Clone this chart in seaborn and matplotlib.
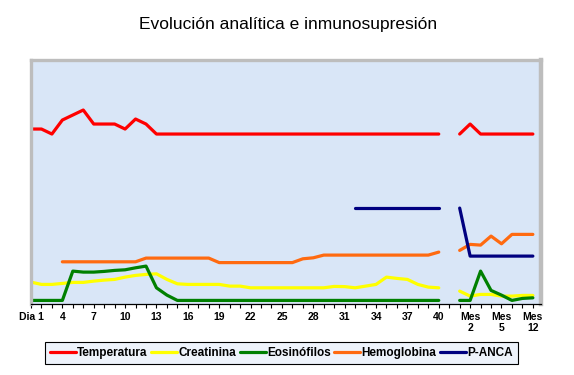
import numpy as np
import pandas as pd
import matplotlib
matplotlib.use("Agg")
import matplotlib.pyplot as plt
from matplotlib.lines import Line2D
import seaborn as sns

sns.set_style("white")
plt.rcParams['font.family'] = ['Liberation Sans', 'DejaVu Sans']
plt.rcParams['text.color'] = 'black'
plt.rcParams['xtick.color'] = 'black'

# -----------------------------
# datos (altura relativa de cada curva, sin escala en el eje y)
# -----------------------------
x_dias = np.arange(1, 41)    # Dia 1 .. 40
x_meses = np.arange(42, 50)  # tramo de meses, tras un hueco

temperatura_dias = [175, 175, 170, 184, 189, 194, 180, 180, 180, 175,
                    185, 180, 170, 170, 170, 170, 170, 170, 170, 170,
                    170, 170, 170, 170, 170, 170, 170, 170, 170, 170,
                    170, 170, 170, 170, 170, 170, 170, 170, 170, 170]
creatinina_dias = [22, 19.7, 19.7, 20.7, 21.7, 21.7, 23, 24, 24.7, 27,
                   28.7, 29.7, 30.3, 24.7, 20.3, 19.7, 19.7, 19.7, 19.7, 18,
                   18, 16.3, 16.3, 16.3, 16.3, 16.3, 16.3, 16.3, 16.3, 17.7,
                   17.5, 16.3, 18, 19.7, 27, 25.7, 24.7, 19.7, 17, 16.3]
eosinofilos_dias = [3.7, 3.7, 3.7, 3.7, 33, 32, 32, 32.7, 33.7, 34.3,
                    36.3, 38, 16.3, 9, 3.7, 3.7, 3.7, 3.7, 3.7, 3.7,
                    3.7, 3.7, 3.7, 3.7, 3.7, 3.7, 3.7, 3.7, 3.7, 3.7,
                    3.7, 3.7, 3.7, 3.7, 3.7, 3.7, 3.7, 3.7, 3.7, 3.7]
hemoglobina_dias = [np.nan, np.nan, np.nan, 42.3, 42.3, 42.3, 42.3, 42.3, 42.3, 42.3,
                    42.3, 46, 46, 46, 46, 46, 46, 46, 41.5, 41.5,
                    41.5, 41.5, 41.5, 41.5, 41.5, 41.5, 45.3, 46.3, 49, 49,
                    49, 49, 49, 49, 49, 49, 49, 49, 49, 52]
panca_dias = [np.nan, np.nan, np.nan, np.nan, np.nan, np.nan, np.nan, np.nan, np.nan, np.nan,
              np.nan, np.nan, np.nan, np.nan, np.nan, np.nan, np.nan, np.nan, np.nan, np.nan,
              np.nan, np.nan, np.nan, np.nan, np.nan, np.nan, np.nan, np.nan, np.nan, np.nan,
              np.nan, 96, 96, 96, 96, 96, 96, 96, 96, 96]

temperatura_meses = [170, 180, 170, 170, 170, 170, 170, 170]
creatinina_meses = [13, 8, 9.7, 9.7, 8, 8, 8.7, 8.7]
eosinofilos_meses = [3.7, 3.7, 33, 13.7, 9, 3.7, 5.7, 6.3]
hemoglobina_meses = [53.7, 59.7, 59, 68, 60.3, 69.7, 69.7, 69.7]
panca_meses = [96, 48, 48, 48, 48, 48, 48, 48]

series = ["Temperatura", "Creatinina", "Eosinófilos", "Hemoglobina", "P-ANCA"]
colores = ["#ff0000", "#ffff00", "#008000", "#ff6a10", "#000080"]

tick_pos = np.arange(1, 50, 3)
tick_labels = ["Dia 1", "4", "7", "10", "13", "16", "19", "22", "25", "28",
               "31", "34", "37", "40", "Mes\n2", "Mes\n5", "Mes\n12"]

# -----------------------------
# tabla larga para seaborn
# -----------------------------
valores_dias = [temperatura_dias, creatinina_dias, eosinofilos_dias, hemoglobina_dias, panca_dias]
valores_meses = [temperatura_meses, creatinina_meses, eosinofilos_meses, hemoglobina_meses, panca_meses]

rows = []
for nombre, vd, vm in zip(series, valores_dias, valores_meses):
    for x, v in zip(x_dias, vd):
        rows.append((nombre, "dias", x, v))
    for x, v in zip(x_meses, vm):
        rows.append((nombre, "meses", x, v))
df = pd.DataFrame(rows, columns=["serie", "tramo", "x", "valor"]).dropna()

# -----------------------------
# figura
# -----------------------------
fig = plt.figure(figsize=(5.74, 3.75), dpi=100)
ax = fig.add_axes([0.054, 0.189, 0.888, 0.651])
ax.set_facecolor("#d9e6f7")

sns.lineplot(data=df, x="x", y="valor", hue="serie", units="tramo", estimator=None,
             hue_order=series, palette=colores, linewidth=2.3, legend=False, ax=ax)

ax.set_xlim(1, 49.75)
ax.set_ylim(0, 244)
ax.set_xlabel("")
ax.set_ylabel("")
ax.set_yticks([])

ax.set_xticks(tick_pos)
ax.set_xticklabels(tick_labels, fontsize=7.5, fontweight="bold", linespacing=1.1)
ax.set_xticks(np.arange(1, 50), minor=True)
ax.tick_params(axis="x", which="both", direction="out", length=3, width=0.8,
               color="black", labelcolor="black", pad=2.5, bottom=True)

for side in ["left", "top"]:
    ax.spines[side].set_color("#bdbdbd")
    ax.spines[side].set_linewidth(2.4)
ax.spines["right"].set_color("#bdbdbd")
ax.spines["right"].set_linewidth(3.2)
ax.spines["bottom"].set_color("black")
ax.spines["bottom"].set_linewidth(0.9)

fig.text(0.502, 1 - 25 / 375, "Evolución analítica e inmunosupresión",
         ha="center", va="center", fontsize=12.5, color="black")

handles = [Line2D([0], [0], color=c, linewidth=2.3) for c in colores]
leg = fig.legend(handles, series, loc="center", bbox_to_anchor=(0.49, 0.059), ncol=5,
                 frameon=True, fancybox=False, edgecolor="black", facecolor="#eef3fb",
                 framealpha=1, prop={"weight": "bold", "size": 8.5},
                 handlelength=2.2, handletextpad=0.1, columnspacing=0.3, borderpad=0.45)
leg.get_frame().set_linewidth(0.8)
for t in leg.get_texts():
    t.set_color("black")

fig.savefig("out.png", dpi=100)
